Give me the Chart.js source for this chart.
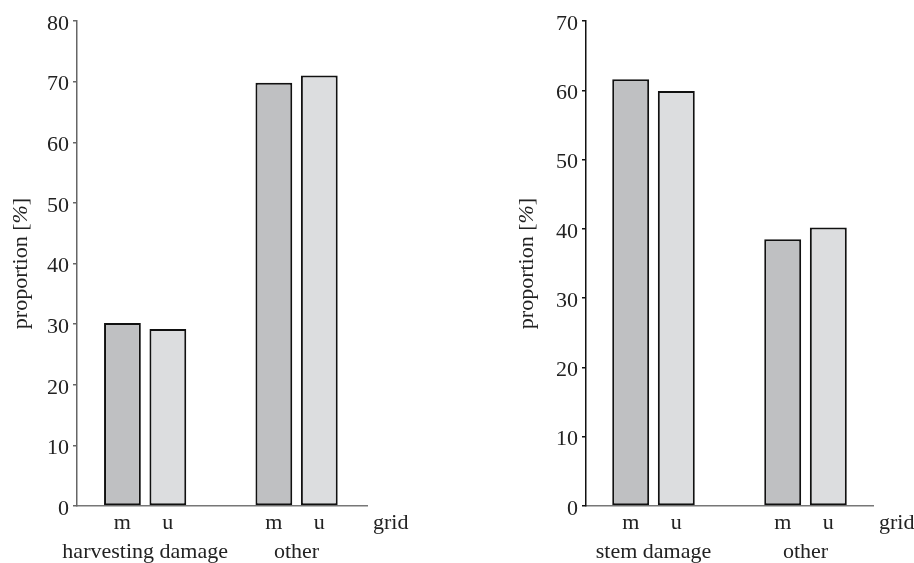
<!DOCTYPE html>
<html>
<head>
<meta charset="utf-8">
<script src="https://cdn.jsdelivr.net/npm/chart.js@4"></script>
<style>
  html, body { margin: 0; padding: 0; background: #fff; }
  #wrap { position: relative; width: 914px; height: 563px; font-family: 'Liberation Serif', serif; }
  .panel { position: absolute; top: 0; width: 457px; height: 563px; }
  #font-warm { position: absolute; left: -999px; top: 0; font: 22px 'Liberation Serif'; }
</style>
</head>
<body>
<div id="wrap">
  <span id="font-warm">proportion m u grid 0123456789 <i>%</i></span>
  <div class="panel" style="left:0"><canvas id="left-chart" width="457" height="563"></canvas></div>
  <div class="panel" style="left:457px"><canvas id="right-chart" width="457" height="563"></canvas></div>
</div>
<script>
'use strict';

// grid type per bar pair
var gridLabels = ['m', 'u'];

var leftCategories = ['harvesting damage', 'other'];
var leftM = [30.2, 69.8];
var leftU = [29.2, 71.0];
var leftTicks = [0, 10, 20, 30, 40, 50, 60, 70, 80];

var rightCategories = ['stem damage', 'other'];
var rightM = [61.6, 38.5];
var rightU = [59.9, 40.2];
var rightTicks = [0, 10, 20, 30, 40, 50, 60, 70];

var FONT = "'Liberation Serif', serif";
var TEXT = '#222';

// Writes m / u under each bar, "grid" at the end of the x axis and the
// y title (the % sign is italic in the original, so it is drawn by hand).
var gridLabelPlugin = {
  id: 'gridLabels',
  afterDraw: function (chart) {
    var ctx = chart.ctx;
    var area = chart.chartArea;
    var regular = "22px 'Liberation Serif', serif";
    var italic = "italic 22px 'Liberation Serif', serif";
    ctx.save();
    ctx.font = regular;
    ctx.fillStyle = TEXT;
    ctx.textBaseline = 'middle';
    ctx.textAlign = 'center';
    chart.data.datasets.forEach(function (ds, i) {
      chart.getDatasetMeta(i).data.forEach(function (bar) {
        ctx.fillText(gridLabels[i], bar.x, area.bottom + 17);
      });
    });
    ctx.textAlign = 'left';
    ctx.fillText('grid', area.right + 6, area.bottom + 17);

    var parts = [['proportion [', regular], ['%', italic], [']', regular]];
    var total = 0;
    parts.forEach(function (p) { ctx.font = p[1]; total += ctx.measureText(p[0]).width; });
    ctx.translate(chart.scales.y.left + 21, (area.top + area.bottom) / 2);
    ctx.rotate(-Math.PI / 2);
    var x = -total / 2;
    parts.forEach(function (p) {
      ctx.font = p[1];
      ctx.fillText(p[0], x, 0);
      x += ctx.measureText(p[0]).width;
    });
    ctx.restore();
  }
};

function points(vals) {
  return vals.map(function (v, i) { return { x: i, y: v }; });
}

function makeChart(id, categories, mVals, uVals, ticks, opts) {
  var tickMax = ticks[ticks.length - 1];
  return new Chart(document.getElementById(id), {
    type: 'bar',
    data: {
      datasets: [
        { label: gridLabels[0], data: points(mVals), backgroundColor: '#bfc0c2' },
        { label: gridLabels[1], data: points(uVals), backgroundColor: '#dcdddf' }
      ]
    },
    options: {
      responsive: false,
      animation: false,
      devicePixelRatio: 1,
      layout: { padding: { left: opts.padLeft, top: 21, right: opts.padRight, bottom: 0 } },
      datasets: {
        bar: {
          borderColor: '#111',
          borderWidth: 2,
          borderSkipped: false,
          categoryPercentage: 0.6,
          barPercentage: 0.81
        }
      },
      plugins: {
        legend: { display: false },
        tooltip: { enabled: false }
      },
      scales: {
        x: {
          type: 'linear',
          offset: false,
          min: opts.xMin,
          max: opts.xMax,
          afterBuildTicks: function (scale) {
            scale.ticks = categories.map(function (c, i) { return { value: i }; });
          },
          grid: { display: false },
          border: { display: true, color: '#777', width: 1.5 },
          ticks: {
            color: TEXT,
            font: { family: FONT, size: 22 },
            padding: 25,
            maxRotation: 0,
            autoSkip: false,
            callback: function (v) { return categories[v]; }
          },
          afterFit: function (scale) { scale.height = 57; }
        },
        y: {
          min: 0,
          max: tickMax,
          afterBuildTicks: function (scale) {
            scale.ticks = ticks.map(function (v) { return { value: v }; });
          },
          grid: { drawOnChartArea: false, tickLength: 4, color: opts.axisColor, lineWidth: 1.5 },
          border: { display: true, color: opts.axisColor, width: 1.5 },
          ticks: { color: TEXT, font: { family: FONT, size: 22 }, padding: 4, labelOffset: 3 },
          title: { display: false },
          afterFit: function (scale) { scale.width = opts.axisWidth; }
        }
      }
    },
    plugins: [gridLabelPlugin]
  });
}

function drawAll() {
  makeChart('left-chart', leftCategories, leftM, leftU, leftTicks,
    { padLeft: 0, padRight: 90, axisWidth: 77, axisColor: '#666', xMin: -0.45, xMax: 1.465 });
  makeChart('right-chart', rightCategories, rightM, rightU, rightTicks,
    { padLeft: 49, padRight: 41, axisWidth: 80, axisColor: '#111', xMin: -0.444, xMax: 1.444 });
}

if (document.fonts && document.fonts.load) {
  Promise.all([
    document.fonts.load("22px 'Liberation Serif'"),
    document.fonts.load("italic 22px 'Liberation Serif'")
  ]).then(drawAll, drawAll);
} else {
  drawAll();
}
</script>
</body>
</html>
